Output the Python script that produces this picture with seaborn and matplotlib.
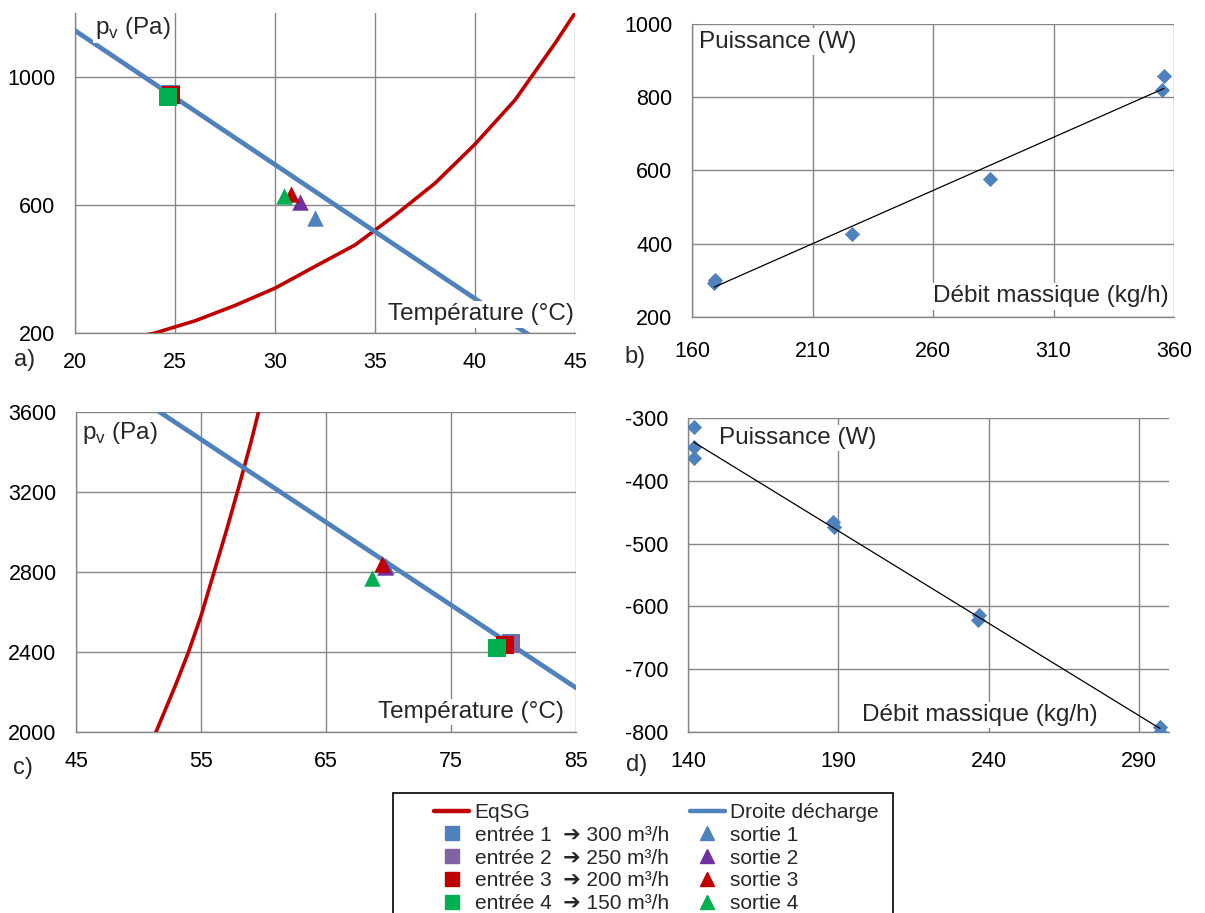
import matplotlib
matplotlib.use("Agg")
import matplotlib.pyplot as plt
from matplotlib.lines import Line2D
from matplotlib.patches import Rectangle
import seaborn as sns

# ---------------- data ----------------
# Panel a) : psychrometric line + EqSG curve
eqsg_a_T = [23.5, 24, 26, 28, 30, 32, 34, 36, 38, 40, 42, 44, 45]
eqsg_a_p = [193, 200, 238, 286, 340, 408, 475, 568, 668, 790, 928, 1105, 1200]
droite_a_T = [20, 45]
droite_a_p = [1145, 98]
entree_a_T = [24.82, 24.80, 24.78, 24.67]
entree_a_p = [946, 945, 944, 938]
sortie_a_T = [32.0, 31.25, 30.8, 30.45]
sortie_a_p = [560, 609, 634, 628]

# Panel c)
eqsg_c_T = [51.0, 51.4, 52, 53, 54, 55, 56, 57, 58, 59, 59.6, 60]
eqsg_c_p = [1940, 2000, 2090, 2240, 2400, 2580, 2790, 3000, 3220, 3450, 3600, 3700]
droite_c_T = [45, 85]
droite_c_p = [3877, 2221]
entree_c_T = [79.8, 79.8, 79.3, 78.66]
entree_c_p = [2445, 2440, 2435, 2422]
sortie_c_T = [69.8, 69.7, 69.5, 68.7]
sortie_c_p = [2830, 2825, 2838, 2772]

# Panel b) : power vs mass flow
debit_b = [169.3, 169.6, 226.5, 283.8, 355.8, 355.2]
puiss_b = [292, 302, 427, 576, 857, 819]

# Panel d)
debit_d = [141.9, 141.9, 141.9, 188.2, 188.4, 236.9, 236.6, 297.0, 297.0]
puiss_d = [-314, -346, -363, -465, -473, -614, -621, -792, -800]

entree_labels = ["entrée 1  \u2794 300 m³/h", "entrée 2  \u2794 250 m³/h",
                 "entrée 3  \u2794 200 m³/h", "entrée 4  \u2794 150 m³/h"]
sortie_labels = ["sortie 1", "sortie 2", "sortie 3", "sortie 4"]

# ---------------- style ----------------
RED = "#C00000"
BLUE = "#4F81BD"
entree_colors = ["#4F81BD", "#8064A2", "#C00000", "#00B050"]
sortie_colors = ["#4F81BD", "#7030A0", "#C00000", "#00B050"]
GRID = "#868686"

sns.set_style("white")
plt.rcParams["font.family"] = ["Liberation Sans", "DejaVu Sans"]
plt.rcParams["mathtext.fontset"] = "custom"
plt.rcParams["mathtext.rm"] = "Liberation Sans"
plt.rcParams["axes.unicode_minus"] = False

W, H = 1205, 913
fig = plt.figure(figsize=(W / 100, H / 100), dpi=100)


def px_axes(l, t, r, b):
    return fig.add_axes([l / W, 1 - b / H, (r - l) / W, (b - t) / H])


ax_a = px_axes(75, 13, 575, 333)
ax_b = px_axes(692, 24, 1174, 317)
ax_c = px_axes(76, 412, 576, 732)
ax_d = px_axes(688, 418, 1169, 732)

TICK_FS = 15.5
TITLE_FS = 17.5


def style_axes(ax, xlim, xticks, ylim, yticks, xpad=10, ypad=10):
    ax.set_xlim(*xlim)
    ax.set_ylim(*ylim)
    ax.set_xticks(xticks)
    ax.set_yticks(yticks)
    ax.grid(True, color=GRID, linewidth=1.0)
    ax.set_axisbelow(True)
    for s in ["top", "right"]:
        ax.spines[s].set_visible(False)
    for s in ["left", "bottom"]:
        ax.spines[s].set_color(GRID)
        ax.spines[s].set_linewidth(1.0)
    ax.tick_params(axis="both", length=4, width=1, color=GRID, labelsize=TICK_FS,
                   labelcolor="black")
    ax.tick_params(axis="x", pad=xpad)
    ax.tick_params(axis="y", pad=ypad)
    ax.set_xlabel("")
    ax.set_ylabel("")
    ax.set_facecolor("white")


def text_box(ax, x, y, s, ha, va):
    ax.text(x, y, s, transform=ax.transAxes, ha=ha, va=va, fontsize=TITLE_FS,
            zorder=10, bbox=dict(facecolor="white", edgecolor="none", pad=1.5))


def psychro_panel(ax, eT, ep, dT, dp, inT, inp, outT, outp):
    sns.lineplot(x=eT, y=ep, ax=ax, color=RED, linewidth=2.6, sort=False,
                 estimator=None, legend=False, zorder=3)
    sns.lineplot(x=dT, y=dp, ax=ax, color=BLUE, linewidth=3.4, sort=False,
                 estimator=None, legend=False, zorder=3)
    for i in range(4):
        sns.scatterplot(x=[inT[i]], y=[inp[i]], ax=ax, marker="s", color=entree_colors[i],
                        s=150, linewidth=0, legend=False, zorder=4)
    for i in range(4):
        sns.scatterplot(x=[outT[i]], y=[outp[i]], ax=ax, marker="^", color=sortie_colors[i],
                        s=140, linewidth=0, legend=False, zorder=4)


# ---- panel a
psychro_panel(ax_a, eqsg_a_T, eqsg_a_p, droite_a_T, droite_a_p,
              entree_a_T, entree_a_p, sortie_a_T, sortie_a_p)
style_axes(ax_a, (20, 45), range(20, 46, 5), (200, 1200), [200, 600, 1000])
text_box(ax_a, 0.04, 0.995, r"p$_\mathregular{v}$ (Pa)", "left", "top")
text_box(ax_a, 0.998, 0.058, "Température (°C)", "right", "center")

# ---- panel c
psychro_panel(ax_c, eqsg_c_T, eqsg_c_p, droite_c_T, droite_c_p,
              entree_c_T, entree_c_p, sortie_c_T, sortie_c_p)
style_axes(ax_c, (45, 85), range(45, 86, 10), (2000, 3600), range(2000, 3601, 400))
text_box(ax_c, 0.012, 0.935, r"p$_\mathregular{v}$ (Pa)", "left", "center")
text_box(ax_c, 0.975, 0.062, "Température (°C)", "right", "center")

# ---- panel b
sns.scatterplot(x=debit_b, y=puiss_b, ax=ax_b, marker="D", color=BLUE, s=60,
                linewidth=0, legend=False, zorder=4)
sns.regplot(x=debit_b, y=puiss_b, ax=ax_b, scatter=False, ci=None, truncate=True,
            color="black", line_kws=dict(linewidth=0.9, zorder=5))
style_axes(ax_b, (160, 360), range(160, 361, 50), (200, 1000), range(200, 1001, 200),
           xpad=13)
text_box(ax_b, 0.015, 0.94, "Puissance (W)", "left", "center")
text_box(ax_b, 0.988, 0.07, "Débit massique (kg/h)", "right", "center")

# ---- panel d
sns.scatterplot(x=debit_d, y=puiss_d, ax=ax_d, marker="D", color=BLUE, s=60,
                linewidth=0, legend=False, zorder=4)
sns.regplot(x=debit_d, y=puiss_d, ax=ax_d, scatter=False, ci=None, truncate=True,
            color="black", line_kws=dict(linewidth=0.9, zorder=5))
style_axes(ax_d, (140, 300), [140, 190, 240, 290], (-800, -300), range(-800, -299, 100))
text_box(ax_d, 0.065, 0.936, "Puissance (W)", "left", "center")
text_box(ax_d, 0.852, 0.054, "Débit massique (kg/h)", "right", "center")

# panel letters
for lbl, (x, y) in {"a)": (25, 360), "b)": (635, 357), "c)": (23, 768), "d)": (637, 765)}.items():
    fig.text(x / W, 1 - y / H, lbl, fontsize=17, ha="center", va="center")

# ---------------- legend ----------------
handles = [Line2D([0], [0], color=RED, lw=3.2)]
labels = ["EqSG"]
for c, l in zip(entree_colors, entree_labels):
    handles.append(Line2D([], [], marker="s", linestyle="none", color=c, markersize=10))
    labels.append(l)
handles.append(Line2D([0], [0], color=BLUE, lw=3.2))
labels.append("Droite décharge")
for c, l in zip(sortie_colors, sortie_labels):
    handles.append(Line2D([], [], marker="^", linestyle="none", color=c, markersize=9.5))
    labels.append(l)

fig.legend(handles, labels, ncol=2, loc="upper left",
           bbox_to_anchor=(434 / W, 1 - 803 / H), frameon=False, fontsize=15,
           handlelength=1.7, handletextpad=0.25, labelspacing=0.18,
           columnspacing=1.0, borderpad=0, borderaxespad=0)
fig.add_artist(Rectangle((393 / W, -0.05), 500 / W, (H - 793) / H + 0.05,
                         transform=fig.transFigure, fill=False, edgecolor="black",
                         linewidth=1.2))

fig.savefig("out.png", dpi=100, facecolor="white")
